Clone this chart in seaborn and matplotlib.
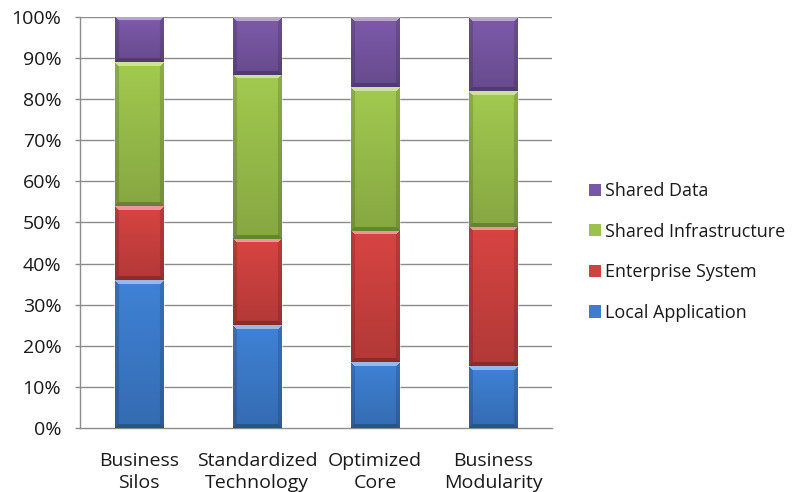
import numpy as np
import pandas as pd
import matplotlib
matplotlib.use("Agg")
import matplotlib.pyplot as plt
import seaborn as sns
from matplotlib.patches import Patch
from matplotlib.colors import to_rgb

# Architecture maturity stages and the share of IT spend per component
categories = ["Business\nSilos", "Standardized\nTechnology", "Optimized\nCore", "Business\nModularity"]
series = ["Local Application", "Enterprise System", "Shared Infrastructure", "Shared Data"]
local_application = [36, 25, 16, 15]
enterprise_system = [18, 21, 32, 34]
shared_infrastructure = [35, 40, 35, 33]
shared_data = [11, 14, 17, 18]
y_ticks = [0, 10, 20, 30, 40, 50, 60, 70, 80, 90, 100]
y_tick_labels = [f"{v}%" for v in y_ticks]

values = {
    "Local Application": local_application,
    "Enterprise System": enterprise_system,
    "Shared Infrastructure": shared_infrastructure,
    "Shared Data": shared_data,
}
colors = {
    "Local Application": "#3d7dce",
    "Enterprise System": "#cf4240",
    "Shared Infrastructure": "#9cc24c",
    "Shared Data": "#7857a4",
}

sns.set_theme(style="white")
plt.rcParams["font.family"] = ["Open Sans", "DejaVu Sans"]

W, H = 797, 492
fig = plt.figure(figsize=(W / 100, H / 100), dpi=100)
ax_left, ax_right, ax_bottom, ax_top = 80, 552, 428, 17
ax = fig.add_axes([ax_left / W, 1 - ax_bottom / H, (ax_right - ax_left) / W, (ax_bottom - ax_top) / H])

bar_width = 0.41
font_size = 14

# cumulative tops of the stacked segments
tops = {}
running = np.zeros(len(categories))
for s in series:
    running = running + np.array(values[s])
    tops[s] = running.copy()

df = pd.DataFrame({"category": categories})


def bevel_image(rgb, h_px, w_px, b=4):
    h = max(int(round(h_px)), 2)
    w = max(int(round(w_px)), 2)
    base = np.array(rgb)
    rows = np.arange(h)[:, None] * np.ones((1, w))
    cols = np.ones((h, 1)) * np.arange(w)[None, :]
    frac = rows / max(h - 1, 1)
    img = base[None, None, :] * (1.04 - 0.18 * frac)[..., None]
    dl = cols
    dr = w - 1 - cols
    db = h - 1 - rows
    top = (rows < b) & (dl >= rows) & (dr >= rows)
    bottom = (db < b) & (dl >= db) & (dr >= db) & ~top
    sides = ((dl < b) | (dr < b)) & ~top & ~bottom
    img[top] = img[top] * 0.55 + 0.45
    img[sides] = img[sides] * 0.86
    img[bottom] = img[bottom] * 0.78
    return np.clip(img, 0, 1)


ax_h_px = ax_bottom - ax_top
cat_px = (ax_right - ax_left) / len(categories)

# draw cumulative bars from the top series down so each lower segment sits in front
prev_patches = 0
segment_patches = {}
for s in reversed(series):
    df["top"] = tops[s]
    sns.barplot(data=df, x="category", y="top", color=colors[s], saturation=1,
                width=bar_width, errorbar=None, ax=ax, zorder=2)
    segment_patches[s] = ax.patches[prev_patches:]
    prev_patches = len(ax.patches)

# shaded bevel overlay for each visible segment
for i, s in enumerate(series):
    lower = tops[series[i - 1]] if i > 0 else np.zeros(len(categories))
    for j, p in enumerate(segment_patches[s]):
        x0 = p.get_x()
        x1 = x0 + p.get_width()
        y0, y1 = lower[j], tops[s][j]
        img = bevel_image(to_rgb(colors[s]), (y1 - y0) / 100 * ax_h_px, p.get_width() * cat_px)
        ax.imshow(img, extent=(x0, x1, y0, y1), aspect="auto", origin="upper",
                  interpolation="bilinear", zorder=3)

ax.set_xlim(-0.5, len(categories) - 0.5)
ax.set_ylim(0, 100)
ax.set_yticks(y_ticks)
ax.set_yticklabels(y_tick_labels)
ax.set_xlabel("")
ax.set_ylabel("")

grid_col = "#8c8c8c"
for v in y_ticks[1:]:
    ax.axhline(v, color=grid_col, lw=1.0, zorder=1)

for side in ["top", "right"]:
    ax.spines[side].set_visible(False)
for side in ["left", "bottom"]:
    ax.spines[side].set_color(grid_col)
    ax.spines[side].set_linewidth(1.0)

ax.set_xticks(np.arange(-0.5, len(categories), 1.0), minor=True)
ax.tick_params(axis="x", which="minor", length=4.5, width=1, color=grid_col, direction="out")
ax.tick_params(axis="x", which="major", length=0, pad=17, labelsize=font_size, labelcolor="#1a1a1a")
ax.tick_params(axis="y", which="major", length=3.5, width=1, color=grid_col, direction="out",
               pad=10, labelsize=font_size, labelcolor="#1a1a1a", left=True)
for t in ax.get_xticklabels():
    t.set_linespacing(1.32)

handles = [Patch(facecolor=colors[s], edgecolor="none") for s in reversed(series)]
fig.legend(handles, list(reversed(series)), loc="center left",
           bbox_to_anchor=(573 / W, 1 - 252 / H), frameon=False, fontsize=13,
           handlelength=0.65, handleheight=0.65, handletextpad=0.2, labelspacing=1.25,
           labelcolor="#1a1a1a")

fig.savefig("out.png", dpi=100)
